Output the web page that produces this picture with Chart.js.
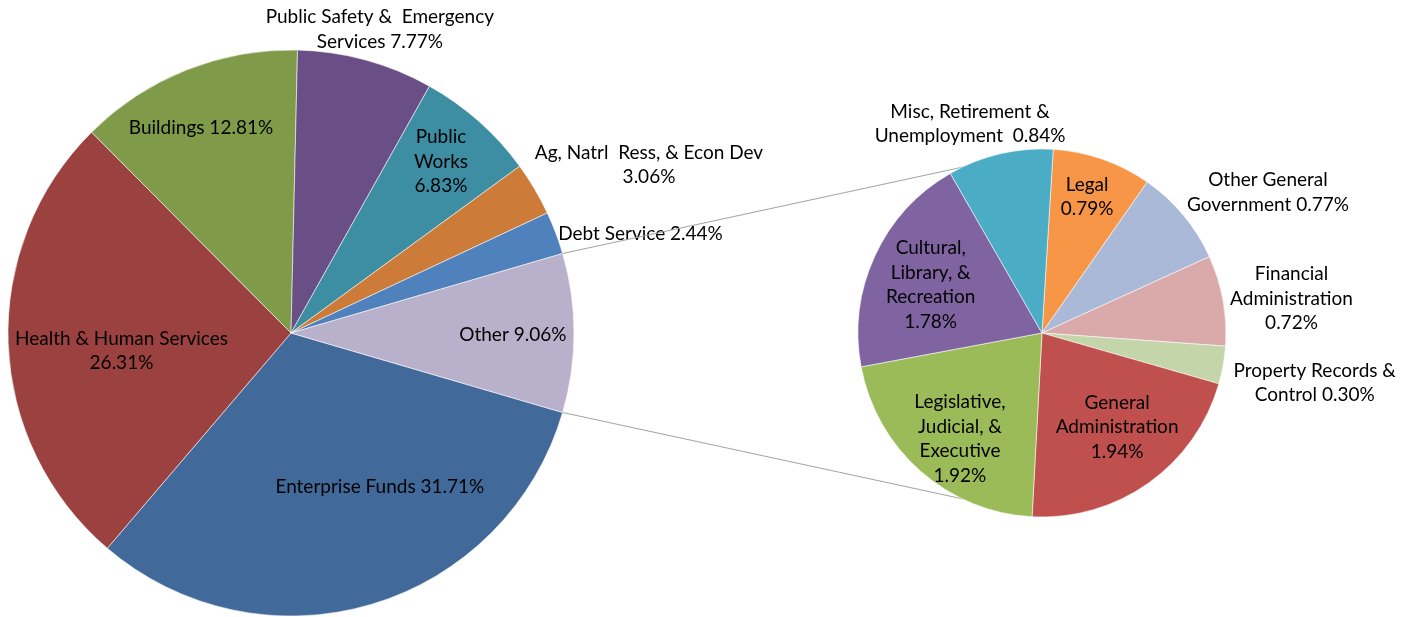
<!DOCTYPE html>
<html>
<head>
<meta charset="utf-8">
<script src="https://cdn.jsdelivr.net/npm/chart.js@4.4.1/dist/chart.umd.min.js"></script>
<style>
  html, body { margin: 0; padding: 0; background: #ffffff; }
  #wrap { position: relative; width: 1415px; height: 617px; }
  .layer { position: absolute; left: 0; top: 0; width: 1415px; height: 617px; }
</style>
</head>
<body>
<div id="wrap">
  <div class="layer"><canvas id="mainPie"></canvas></div>
  <div class="layer"><canvas id="subPie"></canvas></div>
</div>
<script>
// ---------- DATA ----------
const mainCategories = [
  ['Enterprise Funds'],
  ['Health & Human Services'],
  ['Buildings'],
  ['Public Safety &  Emergency', 'Services'],
  ['Public', 'Works'],
  ['Ag, Natrl  Ress, & Econ Dev'],
  ['Debt Service'],
  ['Other']
];
const mainValues = [31.71, 26.31, 12.81, 7.77, 6.83, 3.06, 2.44, 9.06];

const subCategories = [
  ['Legal'],
  ['Other General', 'Government'],
  ['Financial', 'Administration'],
  ['Property Records &', 'Control'],
  ['General', 'Administration'],
  ['Legislative,', 'Judicial, &', 'Executive'],
  ['Cultural,', 'Library, &', 'Recreation'],
  ['Misc, Retirement &', 'Unemployment ']
];
const subValues = [0.79, 0.77, 0.72, 0.30, 1.94, 1.92, 1.78, 0.84];

// ---------- STYLE / LAYOUT ----------
const mainColors = ['#416A9B', '#9B4240', '#7F9B4A', '#6A4F86', '#3D8DA3', '#CC7B38', '#4F81BD', '#B9B0CB'];
const subColors  = ['#F79646', '#AAB9D7', '#D9AAA9', '#C4D6A9', '#C0504D', '#9BBB59', '#8064A2', '#4BACC6'];
// whether the percentage goes on its own line
const mainPctNewLine = [false, true, false, false, true, true, false, false];
const subPctNewLine  = [true, false, true, false, true, true, true, false];
// label block centre, as fraction of radius from pie centre
const mainLabelPos = [[0.314, 0.544], [-0.599, 0.064], [-0.318, -0.724], [0.314, -1.072],
                      [0.530, -0.606], [1.265, -0.594], [1.235, -0.350], [0.784, 0.007]];
const subLabelPos  = [[0.245, -0.739], [1.228, -0.764], [1.356, -0.188], [1.482, 0.272],
                      [0.408, 0.511], [-0.446, 0.576], [-0.605, -0.261], [-0.391, -1.136]];

const FONT = '19px Lato';
const LINE_H = 24.5;

function labelLines(names, value, newLine) {
  const pct = value.toFixed(2) + '%';
  const lines = names.slice();
  if (newLine) lines.push(pct);
  else lines[lines.length - 1] = lines[lines.length - 1] + ' ' + pct;
  return lines;
}

function makeLabelPlugin(categories, values, pctNewLine, positions) {
  return {
    id: 'sliceLabels',
    afterDatasetsDraw(chart) {
      const ctx = chart.ctx;
      const meta = chart.getDatasetMeta(0);
      ctx.save();
      ctx.font = FONT;
      ctx.fillStyle = '#000000';
      ctx.textAlign = 'center';
      ctx.textBaseline = 'middle';
      meta.data.forEach((arc, i) => {
        const r = arc.outerRadius;
        const cx = arc.x + positions[i][0] * r;
        const cy = arc.y + positions[i][1] * r;
        const lines = labelLines(categories[i], values[i], pctNewLine[i]);
        const top = cy - (lines.length - 1) * LINE_H / 2;
        lines.forEach((t, k) => ctx.fillText(t, cx, top + k * LINE_H));
      });
      ctx.restore();
    }
  };
}

const otherIndex = mainValues.length - 1;
const mainTotal = mainValues.reduce((a, b) => a + b, 0);
const mainRotation = 90 + (mainValues[otherIndex] / mainTotal) * 180;

const mainChart = new Chart(document.getElementById('mainPie'), {
  type: 'pie',
  data: {
    labels: mainCategories.map(c => c.join(' ')),
    datasets: [{
      data: mainValues,
      backgroundColor: mainColors,
      borderColor: 'rgba(255,255,255,0.55)',
      borderWidth: 1,
      radius: 283
    }]
  },
  options: {
    responsive: true,
    maintainAspectRatio: false,
    animation: false,
    rotation: mainRotation,
    layout: { padding: { left: 0, right: 833, top: 49, bottom: 0 } },
    plugins: { legend: { display: false }, tooltip: { enabled: false }, title: { display: false } },
    events: []
  },
  plugins: [makeLabelPlugin(mainCategories, mainValues, mainPctNewLine, mainLabelPos)]
});

const connectorPlugin = {
  id: 'connectors',
  beforeDatasetsDraw(chart) {
    const src = mainChart.getDatasetMeta(0).data[otherIndex];
    const dst = chart.getDatasetMeta(0).data[0];
    if (!src || !dst) return;
    const R = src.outerRadius;
    const p1 = [src.x + R * Math.cos(src.startAngle), src.y + R * Math.sin(src.startAngle)];
    const p2 = [src.x + R * Math.cos(src.endAngle), src.y + R * Math.sin(src.endAngle)];
    const R2 = dst.outerRadius - 1;
    const ctx = chart.ctx;
    ctx.save();
    ctx.strokeStyle = '#A6A6A6';
    ctx.lineWidth = 1.2;
    ctx.beginPath();
    ctx.moveTo(p1[0], p1[1]);
    ctx.lineTo(dst.x, dst.y - R2);
    ctx.moveTo(p2[0], p2[1]);
    ctx.lineTo(dst.x, dst.y + R2);
    ctx.stroke();
    ctx.restore();
  }
};

const subChart = new Chart(document.getElementById('subPie'), {
  type: 'pie',
  data: {
    labels: subCategories.map(c => c.join(' ')),
    datasets: [{
      data: subValues,
      backgroundColor: subColors,
      borderColor: 'rgba(255,255,255,0.55)',
      borderWidth: 1,
      radius: 184
    }]
  },
  options: {
    responsive: true,
    maintainAspectRatio: false,
    animation: false,
    rotation: 3.5,
    layout: { padding: { left: 669, right: 0, top: 49, bottom: 0 } },
    plugins: { legend: { display: false }, tooltip: { enabled: false }, title: { display: false } },
    events: []
  },
  plugins: [connectorPlugin, makeLabelPlugin(subCategories, subValues, subPctNewLine, subLabelPos)]
});
</script>
</body>
</html>
